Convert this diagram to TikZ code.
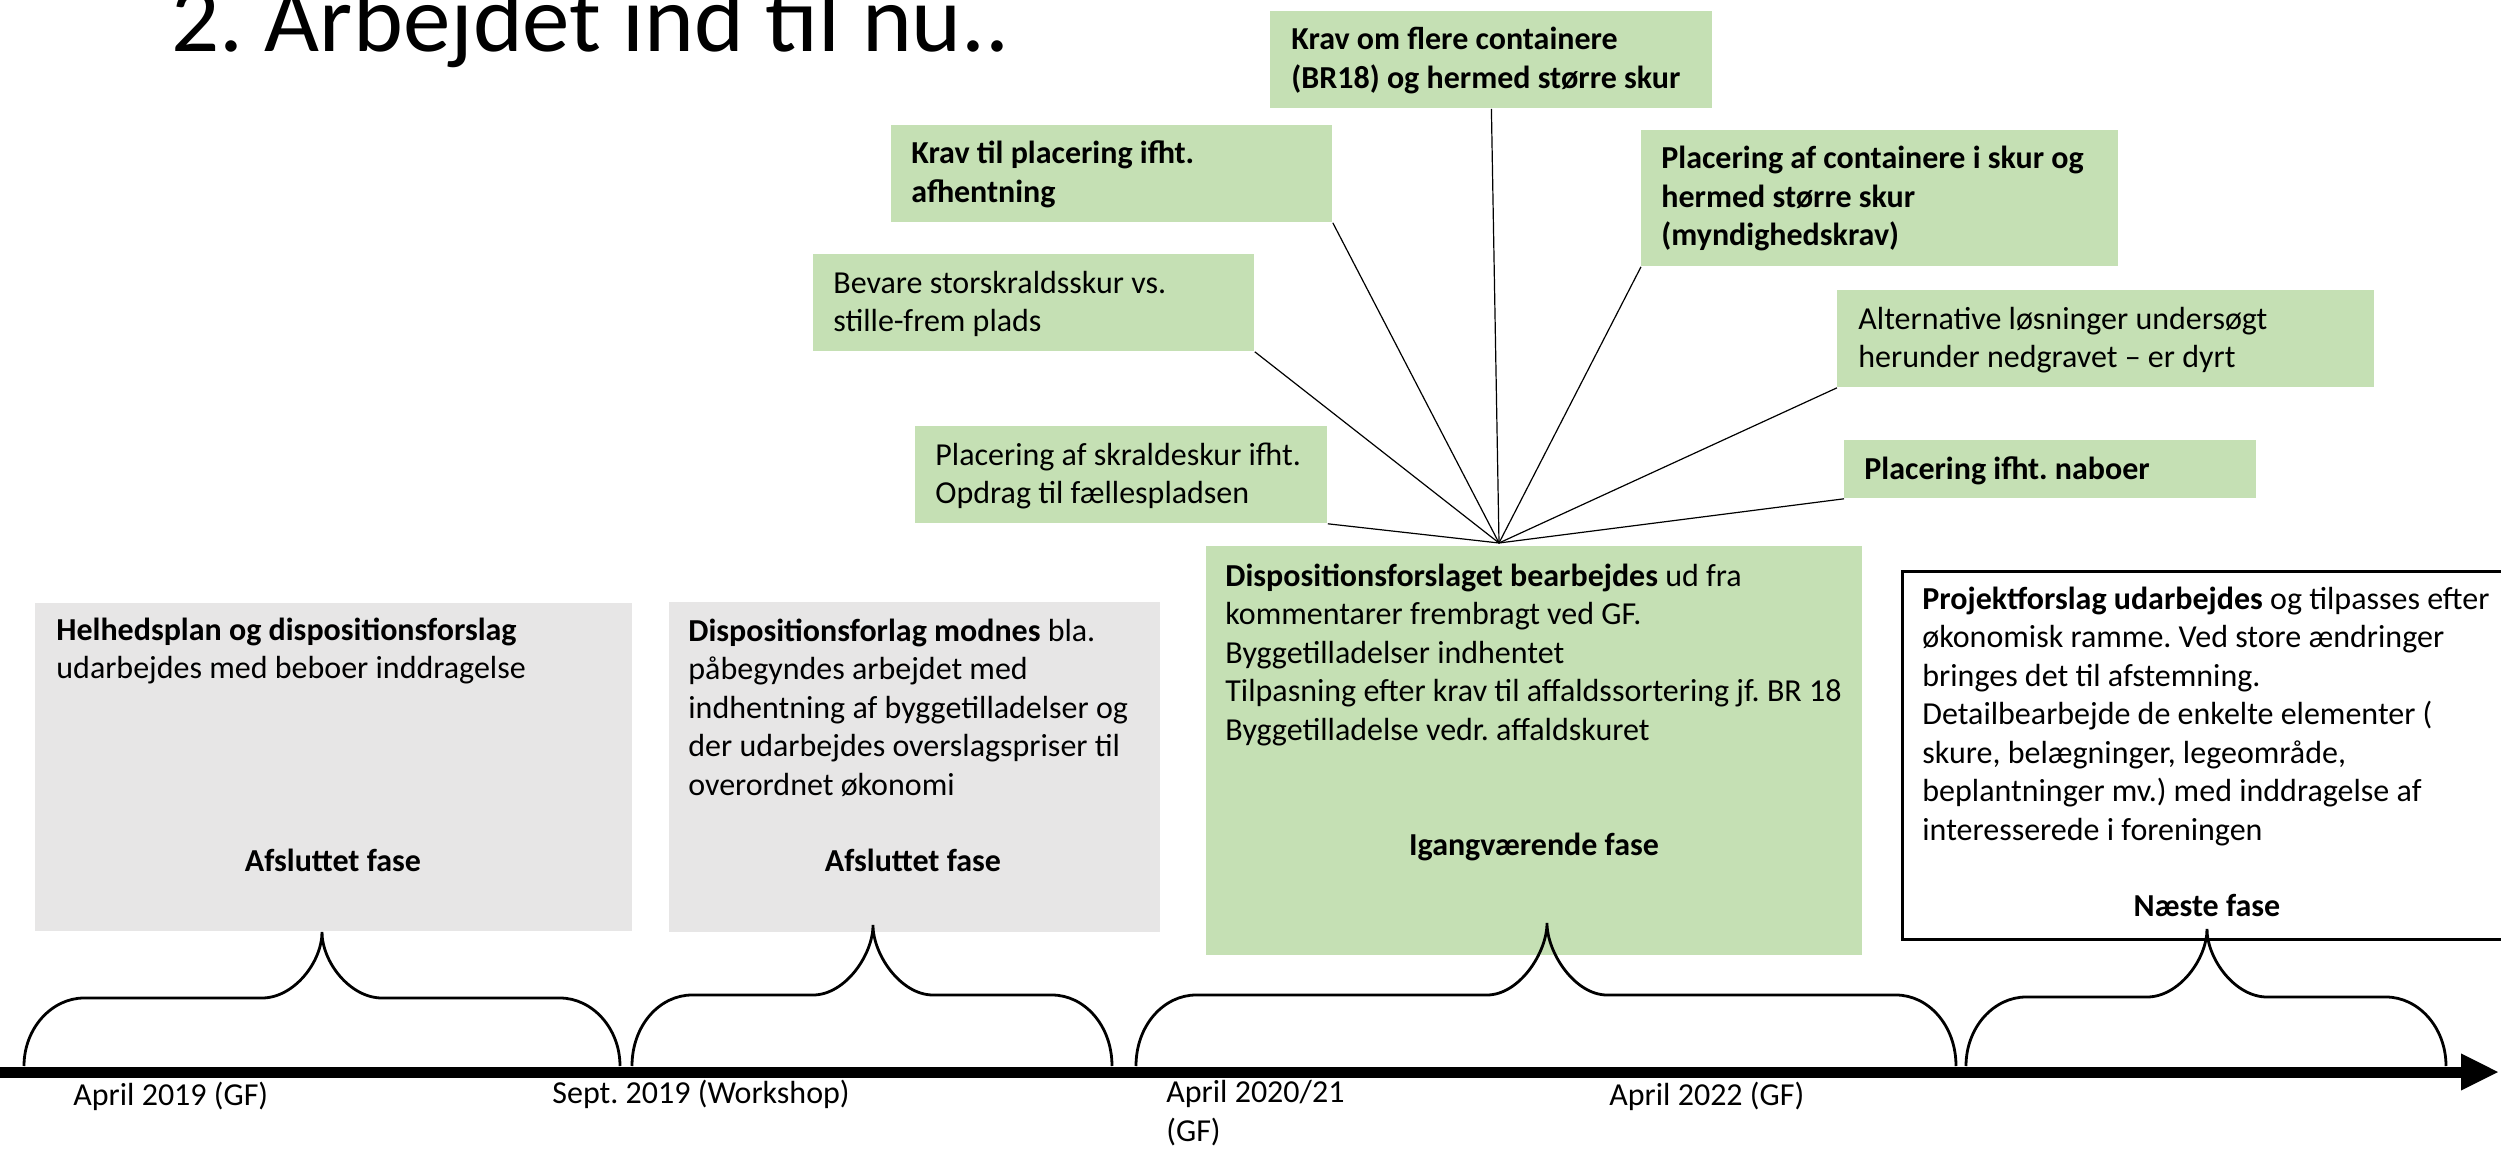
\documentclass[tikz,border=0pt]{standalone}
\usepackage{fontspec}
\setmainfont{Carlito}
\usetikzlibrary{arrows.meta}
\frenchspacing

\newlength{\du}
\setlength{\du}{0.5pt}
\definecolor{feltgroen}{HTML}{C5E0B4}
\definecolor{feltgraa}{HTML}{E7E6E6}

% tekstnoder sidder paa grundlinjen af deres sidste linje
\tikzset{
  felt/.style={rectangle, inner sep=0pt, anchor=north west},
  grontfelt/.style={felt, fill=feltgroen},
  graatfelt/.style={felt, fill=feltgraa},
  tekst/.style={inner sep=0pt, anchor=base west, align=left, font=\fontsize{16}{19.25}\selectfont},
  fasenavn/.style={inner sep=0pt, anchor=base, font=\fontsize{16}{19.25}\selectfont\bfseries},
  streg/.style={black, line width=0.6pt},
  tuborg/.style={black, line width=1.4pt},
  akse/.style={line width=5.5pt, -{Triangle[length=19pt, width=17pt]}},
}

% tuborgklamme: venstre x, spids x, hoejre x, midt y, spids y
\newcommand{\fasebrace}[5]{%
  \draw[tuborg] (#1,1066) .. controls (#1,{#4+30}) and ({#1+28},#4) .. ({#1+60},#4)
    -- ({#2-60},#4) .. controls ({#2-28},#4) and (#2,{#5+30}) .. (#2,#5)
    .. controls (#2,{#5+30}) and ({#2+28},#4) .. ({#2+60},#4)
    -- ({#3-60},#4) .. controls ({#3-28},#4) and (#3,{#4+30}) .. (#3,1066);}

\begin{document}
\begin{tikzpicture}[x=1\du, y=-1\du]
\useasboundingbox (0,0) rectangle (2501,1150);
\clip (0,0) rectangle (2501,1150);

\node[inner sep=0pt, anchor=base west, font=\fontsize{47.5}{57}\selectfont] (titel) at (171,52) {2. Arbejdet ind til nu..};

% faser
\node[graatfelt, minimum width=597\du, minimum height=328\du] (fase1) at (35,603) {};
\node[tekst] (fase1tekst) at (56,678.5) {\textbf{Helhedsplan og dispositionsforslag}\\udarbejdes med beboer inddragelse};
\node[fasenavn] (fase1navn) at (333,871) {Afsluttet fase};

\node[graatfelt, minimum width=491\du, minimum height=330\du] (fase2) at (669,602) {};
\node[tekst] (fase2tekst) at (688,795) {\textbf{Dispositionsforlag modnes} bla.\\påbegyndes arbejdet med\\indhentning af byggetilladelser og\\der udarbejdes overslagspriser til\\overordnet økonomi};
\node[fasenavn] (fase2navn) at (913,871) {Afsluttet fase};

\node[grontfelt, minimum width=656\du, minimum height=409\du] (fase3) at (1206,546) {};
\node[tekst] (fase3tekst) at (1225,740) {\textbf{Dispositionsforslaget bearbejdes} ud fra\\kommentarer frembragt ved GF.\\Byggetilladelser indhentet\\Tilpasning efter krav til affaldssortering jf. BR 18\\Byggetilladelse vedr. affaldskuret};
\node[fasenavn] (fase3navn) at (1534,855) {Igangværende fase};

\node[felt, draw=black, line width=1.3pt, fill=white, minimum width=620\du, minimum height=368\du] (fase4) at (1901,570) {};
\node[tekst] (fase4tekst) at (1922,840) {\textbf{Projektforslag udarbejdes} og tilpasses efter\\økonomisk ramme. Ved store ændringer\\bringes det til afstemning.\\Detailbearbejde de enkelte elementer (\\skure, belægninger, legeområde,\\beplantninger mv.) med inddragelse af\\interesserede i foreningen};
\node[fasenavn] (fase4navn) at (2207,916) {Næste fase};

% noter om affaldsskuret
\node[grontfelt, minimum width=442\du, minimum height=97\du] (krav1) at (1270,11) {};
\node[tekst] (krav1tekst) at (1291,88.5) {\textbf{Krav om flere containere}\\\textbf{(BR18) og hermed større skur}};
\node[grontfelt, minimum width=441\du, minimum height=97\du] (krav2) at (891,125) {};
\node[tekst] (krav2tekst) at (911,202.5) {\textbf{Krav til placering ifht.}\\\textbf{afhentning}};
\node[grontfelt, minimum width=441\du, minimum height=97\du] (bevare) at (813,254) {};
\node[tekst] (bevaretekst) at (833,331.5) {Bevare storskraldsskur vs.\\stille-frem plads};
\node[grontfelt, minimum width=412\du, minimum height=97\du] (skur) at (915,426) {};
\node[tekst] (skurtekst) at (935,503.5) {Placering af skraldeskur ifht.\\Opdrag til fællespladsen};
\node[grontfelt, minimum width=477\du, minimum height=136\du] (container) at (1641,130) {};
\node[tekst] (containertekst) at (1661,246) {\textbf{Placering af containere i skur og}\\\textbf{hermed større skur}\\\textbf{(myndighedskrav)}};
\node[grontfelt, minimum width=537\du, minimum height=97\du] (alternativ) at (1837,290) {};
\node[tekst] (alternativtekst) at (1858,367.5) {Alternative løsninger undersøgt\\herunder nedgravet – er dyrt};
\node[grontfelt, minimum width=412\du, minimum height=58\du] (naboer) at (1844,440) {};
\node[tekst] (naboertekst) at (1864,479) {\textbf{Placering ifht. naboer}};

\coordinate (samling) at (1499,543);
\draw[streg] (krav1.south) -- (samling);
\draw[streg] (krav2.south east) -- (samling);
\draw[streg] (bevare.south east) -- (samling);
\draw[streg] (skur.south east) -- (samling);
\draw[streg] (container.south west) -- (samling);
\draw[streg] (alternativ.south west) -- (samling);
\draw[streg] (naboer.south west) -- (samling);

% tidslinje
\coordinate (aksestart) at (0,1072);
\coordinate (akseslut) at (2499,1072);
\draw[akse] (aksestart) -- (akseslut);

\fasebrace{24}{322}{620}{998}{932}
\fasebrace{632}{873}{1112}{995}{925}
\fasebrace{1136}{1547}{1956}{995}{923}
\fasebrace{1966}{2207}{2446}{997}{929}

\node[tekst] (dato1) at (73,1105) {April 2019 (GF)};
\node[tekst] (dato2) at (552,1103) {Sept. 2019 (Workshop)};
\node[tekst] (dato3) at (1166,1141) {April 2020/21\\(GF)};
\node[tekst] (dato4) at (1609,1105) {April 2022 (GF)};
\end{tikzpicture}
\end{document}
